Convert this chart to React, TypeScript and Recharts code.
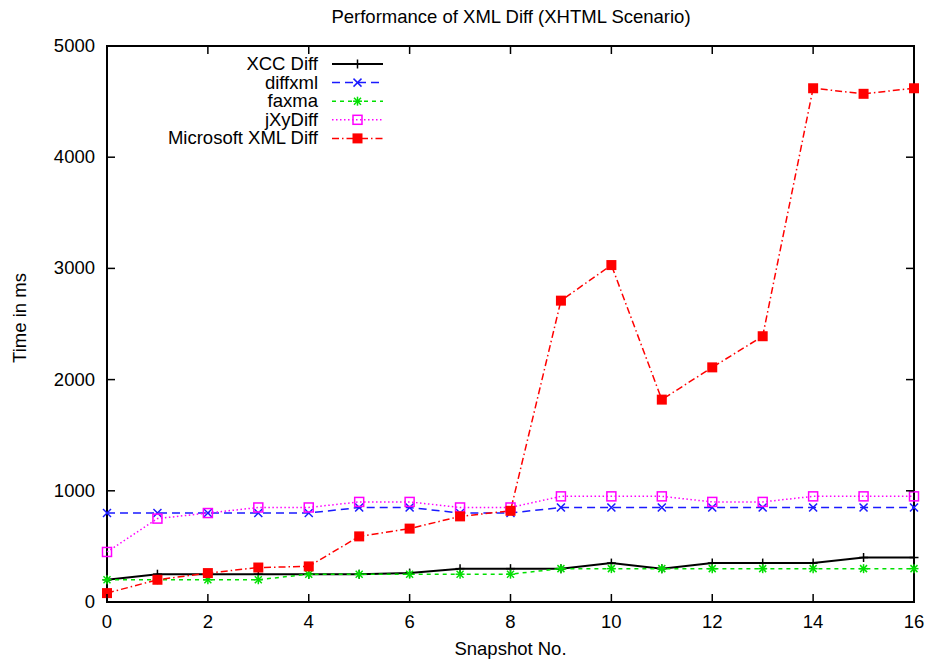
import { Legend, Line, LineChart, ReferenceArea, XAxis, YAxis } from "recharts";

// Snapshot numbers along the x axis and timings (ms) per tool
const SNAPSHOTS = [0, 1, 2, 3, 4, 5, 6, 7, 8, 9, 10, 11, 12, 13, 14, 15, 16];
const XCC_DIFF = [200, 250, 250, 250, 250, 250, 260, 300, 300, 300, 350, 300, 350, 350, 350, 400, 400];
const DIFFXML = [800, 800, 800, 800, 800, 850, 850, 800, 800, 850, 850, 850, 850, 850, 850, 850, 850];
const FAXMA = [200, 200, 200, 200, 250, 250, 250, 250, 250, 300, 300, 300, 300, 300, 300, 300, 300];
const JXYDIFF = [450, 750, 800, 850, 850, 900, 900, 850, 850, 950, 950, 950, 900, 900, 950, 950, 950];
const MS_XML_DIFF = [80, 200, 260, 310, 320, 590, 660, 770, 820, 2710, 3030, 1820, 2110, 2390, 4620, 4570, 4620];

const X_TICKS = [0, 2, 4, 6, 8, 10, 12, 14, 16];
const Y_TICKS = [0, 1000, 2000, 3000, 4000, 5000];

const FONT = '"Liberation Sans", Arial, Helvetica, sans-serif';
const FONT_SIZE = 18.5;
const PLOT_W = 807;
const PLOT_H = 556;
const TICK = 8;

type MarkerShape = "plus" | "cross" | "star" | "box" | "fbox";

interface SeriesDef {
  key: string;
  name: string;
  values: number[];
  color: string;
  width: number;
  dash?: string;
  marker: MarkerShape;
}

const SERIES: SeriesDef[] = [
  { key: "xcc", name: "XCC Diff", values: XCC_DIFF, color: "#000000", width: 2, marker: "plus" },
  { key: "diffxml", name: "diffxml", values: DIFFXML, color: "#1a1aff", width: 1.5, dash: "8 5", marker: "cross" },
  { key: "faxma", name: "faxma", values: FAXMA, color: "#00e000", width: 1.5, dash: "4 4", marker: "star" },
  { key: "jxy", name: "jXyDiff", values: JXYDIFF, color: "#ff00ff", width: 1.5, dash: "1.5 2.5", marker: "box" },
  { key: "ms", name: "Microsoft XML Diff", values: MS_XML_DIFF, color: "#ff0000", width: 1.5, dash: "7 3 1.5 3", marker: "fbox" },
];

const data = SNAPSHOTS.map((x, i) => {
  const row: Record<string, number> = { x };
  SERIES.forEach((s) => {
    row[s.key] = s.values[i];
  });
  return row;
});

function Marker({ shape, cx, cy, color }: { shape: MarkerShape; cx: number; cy: number; color: string }) {
  const r = 4.5;
  switch (shape) {
    case "plus":
      return (
        <g stroke={color} strokeWidth={1.5}>
          <line x1={cx - r} y1={cy} x2={cx + r} y2={cy} />
          <line x1={cx} y1={cy - r} x2={cx} y2={cy + r} />
        </g>
      );
    case "cross":
      return (
        <g stroke={color} strokeWidth={1.5}>
          <line x1={cx - 4} y1={cy - 4} x2={cx + 4} y2={cy + 4} />
          <line x1={cx - 4} y1={cy + 4} x2={cx + 4} y2={cy - 4} />
        </g>
      );
    case "star":
      return (
        <g stroke={color} strokeWidth={1.5}>
          <line x1={cx - r} y1={cy} x2={cx + r} y2={cy} />
          <line x1={cx} y1={cy - r} x2={cx} y2={cy + r} />
          <line x1={cx - 3.5} y1={cy - 3.5} x2={cx + 3.5} y2={cy + 3.5} />
          <line x1={cx - 3.5} y1={cy + 3.5} x2={cx + 3.5} y2={cy - 3.5} />
        </g>
      );
    case "box":
      return <rect x={cx - r} y={cy - r} width={2 * r} height={2 * r} fill="none" stroke={color} strokeWidth={1.5} />;
    default:
      return <rect x={cx - 5} y={cy - 5} width={10} height={10} fill={color} />;
  }
}

// gnuplot-style ticks: drawn inwards and mirrored on the opposite border
function XTick(props: any) {
  const { x, y, payload } = props;
  return (
    <g>
      <line x1={x} y1={y} x2={x} y2={y - TICK} stroke="#000" strokeWidth={1.5} />
      <line x1={x} y1={y - PLOT_H} x2={x} y2={y - PLOT_H + TICK} stroke="#000" strokeWidth={1.5} />
      <text x={x} y={y + 26} textAnchor="middle" fontFamily={FONT} fontSize={FONT_SIZE} fill="#000">
        {payload.value}
      </text>
    </g>
  );
}

function YTick(props: any) {
  const { x, y, payload } = props;
  return (
    <g>
      <line x1={x} y1={y} x2={x + TICK} y2={y} stroke="#000" strokeWidth={1.5} />
      <line x1={x + PLOT_W} y1={y} x2={x + PLOT_W - TICK} y2={y} stroke="#000" strokeWidth={1.5} />
      <text x={x - 12} y={y + 6} textAnchor="end" fontFamily={FONT} fontSize={FONT_SIZE} fill="#000">
        {payload.value}
      </text>
    </g>
  );
}

function KeyBox() {
  const rowH = 18.6;
  return (
    <svg width={400} height={110}>
      {SERIES.map((s, i) => {
        const cy = 14 + i * rowH;
        return (
          <g key={s.key}>
            <text x={318} y={cy + 6} textAnchor="end" fontFamily={FONT} fontSize={FONT_SIZE} fill="#000">
              {s.name}
            </text>
            <line x1={332} y1={cy} x2={383} y2={cy} stroke={s.color} strokeWidth={s.width} strokeDasharray={s.dash} />
            <Marker shape={s.marker} cx={357.5} cy={cy} color={s.color} />
          </g>
        );
      })}
    </svg>
  );
}

export default function App() {
  return (
    <div style={{ position: "relative", width: 929, height: 661, background: "#fff" }}>
      <style>{"body{margin:0}"}</style>
      <div
        style={{
          position: "absolute",
          left: 511,
          top: 7,
          transform: "translateX(-50%)",
          whiteSpace: "nowrap",
          fontFamily: FONT,
          fontSize: FONT_SIZE,
          lineHeight: "20px",
          color: "#000",
        }}
      >
        Performance of XML Diff (XHTML Scenario)
      </div>
      <LineChart width={929} height={661} data={data} margin={{ top: 46, right: 15, bottom: 0, left: 0 }}>
        <XAxis
          dataKey="x"
          type="number"
          domain={[0, 16]}
          ticks={X_TICKS}
          height={59}
          axisLine={false}
          tickLine={false}
          tickSize={0}
          tickMargin={0}
          tick={<XTick />}
          interval={0}
          label={(p: any) => (
            <text
              x={p.viewBox.x + p.viewBox.width / 2}
              y={p.viewBox.y + 53}
              textAnchor="middle"
              fontFamily={FONT}
              fontSize={FONT_SIZE}
              fill="#000"
            >
              Snapshot No.
            </text>
          )}
        />
        <YAxis
          type="number"
          domain={[0, 5000]}
          ticks={Y_TICKS}
          width={107}
          axisLine={false}
          tickLine={false}
          tickSize={0}
          tickMargin={0}
          tick={<YTick />}
          interval={0}
          label={(p: any) => {
            const cx = p.viewBox.x + 26;
            const cy = p.viewBox.y + p.viewBox.height / 2 - 6;
            return (
              <text
                x={cx}
                y={cy}
                transform={`rotate(-90 ${cx} ${cy})`}
                textAnchor="middle"
                fontFamily={FONT}
                fontSize={FONT_SIZE}
                fill="#000"
              >
                Time in ms
              </text>
            );
          }}
        />
        <ReferenceArea x1={0} x2={16} y1={0} y2={5000} fill="none" stroke="#000" strokeWidth={2} ifOverflow="visible" />
        <Legend
          layout="vertical"
          align="center"
          verticalAlign="middle"
          wrapperStyle={{ top: 50, left: 0, width: 400 }}
          content={() => <KeyBox />}
        />
        {SERIES.map((s) => (
          <Line
            key={s.key}
            dataKey={s.key}
            name={s.name}
            type="linear"
            stroke={s.color}
            strokeWidth={s.width}
            strokeDasharray={s.dash}
            isAnimationActive={false}
            activeDot={false}
            dot={(p: any) => (
              <Marker key={`${s.key}-${p.index}`} shape={s.marker} cx={p.cx} cy={p.cy} color={s.color} />
            )}
          />
        ))}
      </LineChart>
    </div>
  );
}
